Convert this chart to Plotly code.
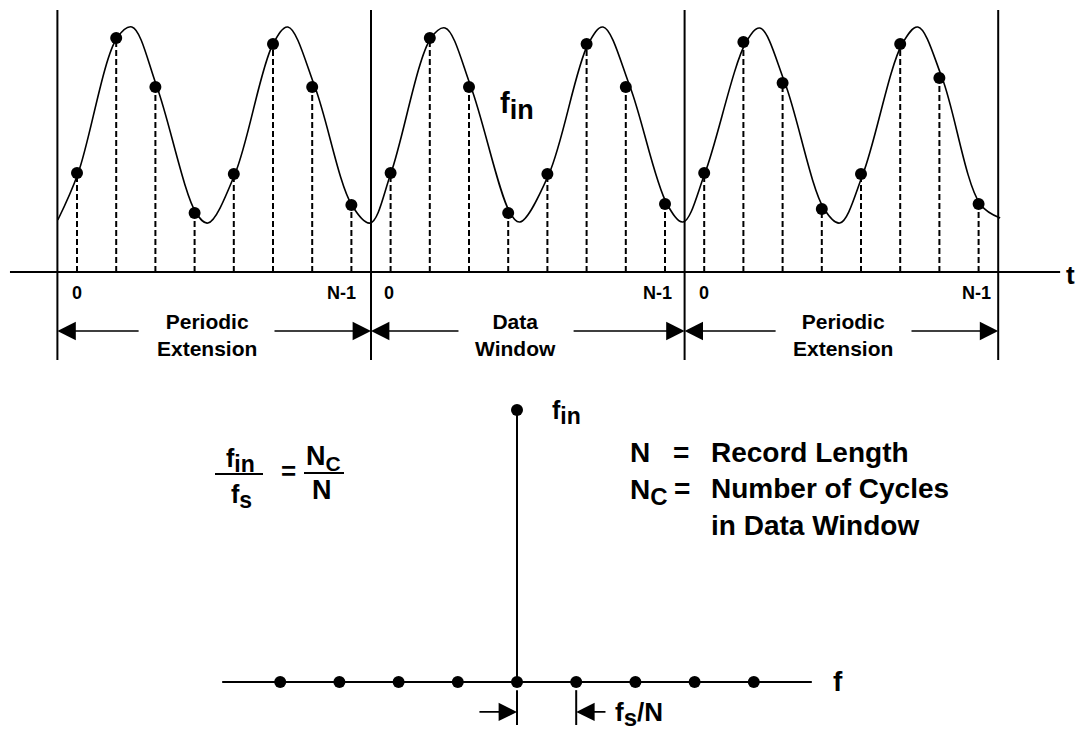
import plotly.graph_objects as go

W, H = 1080, 730
FONT = "Liberation Sans, Arial, sans-serif"

# ---------------- top panel: time-domain record ----------------
sample_n = list(range(-8, 16))          # sample index (data window = 0..7)
sample_vals = [0.99, 2.34, 1.85, 0.59, 0.98, 2.28, 1.85, 0.67,
               0.99, 2.34, 1.85, 0.59, 0.98, 2.28, 1.85, 0.68,
               0.99, 2.30, 1.89, 0.63, 0.98, 2.28, 1.94, 0.68]
curve_t = [-8.49, -7.97, -6.98, -6.60, -5.96, -4.96, -4.66, -3.97, -3.00, -2.62, -1.93, -0.99, -0.52,
           0.01, 1.03, 1.39, 2.05, 3.05, 3.30, 4.04, 5.04, 5.42, 6.11, 7.05, 7.46,
           8.02, 9.07, 9.42, 10.06, 11.06, 11.46, 12.05, 13.05, 13.45, 14.07, 15.04, 15.55]
curve_a = [0.52, 0.99, 2.34, 2.45, 1.85, 0.59, 0.49, 0.98, 2.28, 2.45, 1.85, 0.67, 0.49,
           0.99, 2.34, 2.44, 1.85, 0.59, 0.50, 0.98, 2.28, 2.45, 1.85, 0.68, 0.50,
           0.99, 2.30, 2.44, 1.89, 0.63, 0.49, 0.98, 2.28, 2.45, 1.94, 0.68, 0.54]
window_edges = [-8.5, -0.5, 7.5, 15.5]
window_labels = ["Periodic<br>Extension", "Data<br>Window", "Periodic<br>Extension"]
index_labels = ["0", "N-1"]

# ---------------- bottom panel: FFT output ----------------
bins = [-4, -3, -2, -1, 0, 1, 2, 3, 4]
mags = [0, 0, 0, 0, 1, 0, 0, 0, 0]

# axis scales (pixel-matched layout)
T_RANGE = [-9.9643, 17.5867]
A_RANGE = [-4.58, 2.72]
K_RANGE = [-8.7331, 9.5101]
M_RANGE = [-0.17647, 2.50735]

fig = go.Figure()

# dashed sample lines
dx, dy = [], []
for n, v in zip(sample_n, sample_vals):
    dx += [n, n, None]
    dy += [0, v, None]
fig.add_trace(go.Scatter(x=dx, y=dy, mode="lines",
                         line=dict(color="black", width=2, dash="6px,3px"),
                         hoverinfo="skip", showlegend=False))
# continuous input signal
fig.add_trace(go.Scatter(x=curve_t, y=curve_a, mode="lines",
                         line=dict(color="black", width=1.6, shape="spline", smoothing=1.0),
                         showlegend=False))
# samples
fig.add_trace(go.Scatter(x=sample_n, y=sample_vals, mode="markers",
                         marker=dict(color="black", size=12), showlegend=False))

# bottom: stems, baseline dots and top dots
sx, sy = [], []
for k, m in zip(bins, mags):
    if m:
        sx += [k, k, None]
        sy += [0, m, None]
fig.add_trace(go.Scatter(x=sx, y=sy, mode="lines", xaxis="x2", yaxis="y2",
                         line=dict(color="black", width=2), showlegend=False))
fig.add_trace(go.Scatter(x=bins, y=[0] * len(bins), mode="markers", xaxis="x2", yaxis="y2",
                         marker=dict(color="black", size=12), showlegend=False))
fig.add_trace(go.Scatter(x=[k for k, m in zip(bins, mags) if m],
                         y=[m for m in mags if m], mode="markers", xaxis="x2", yaxis="y2",
                         marker=dict(color="black", size=12), showlegend=False))

shapes = []
# top baseline (time axis)
shapes.append(dict(type="line", xref="x", yref="y", x0=-9.71, x1=17.08, y0=0, y1=0,
                   line=dict(color="black", width=2)))
# window boundaries
for e in window_edges:
    shapes.append(dict(type="line", xref="x", yref="y", x0=e, x1=e, y0=-0.88, y1=2.62,
                       line=dict(color="black", width=2)))
# bottom baseline (frequency axis)
shapes.append(dict(type="line", xref="x2", yref="y2", x0=-4.98, x1=4.98, y0=0, y1=0,
                   line=dict(color="black", width=2)))
# bin spacing ticks
for k in [0, 1]:
    shapes.append(dict(type="line", xref="x2", yref="y2", x0=k, x1=k, y0=-0.03, y1=-0.158,
                       line=dict(color="black", width=2)))


def px(x, y):
    return x / W, 1 - y / H


# fraction bars
for x0, x1, y in [(215, 263, 474), (304, 344, 473)]:
    a0, b0 = px(x0, y)
    a1, _ = px(x1, y)
    shapes.append(dict(type="line", xref="paper", yref="paper", x0=a0, x1=a1, y0=b0, y1=b0,
                       line=dict(color="black", width=2)))

ann = []


def txt(x, y, s, size, xanchor="center", yanchor="middle", align="center"):
    a, b = px(x, y)
    ann.append(dict(x=a, y=b, xref="paper", yref="paper", text=s, showarrow=False,
                    xanchor=xanchor, yanchor=yanchor, align=align,
                    font=dict(family=FONT, size=size, color="black", weight="bold")))


def sub(main, s, size):
    return f'{main}<sub><span style="font-size:{size}px">{s}</span></sub>'


# arrows for windows
ARROW_Y = -0.59
arrow_tails = [-6.39, -3.0, 1.77, 4.63, 9.86, 13.25]
arrow_heads = [-8.5, -0.5, -0.5, 7.5, 7.5, 15.5]
for tl, hd in zip(arrow_tails, arrow_heads):
    ann.append(dict(x=hd, y=ARROW_Y, ax=tl, ay=ARROW_Y, xref="x", yref="y", axref="x", ayref="y",
                    text="", showarrow=True, arrowhead=2, arrowsize=2.3, arrowwidth=1.6,
                    arrowcolor="black", standoff=0, startstandoff=0))
# bottom spacing arrows
for tl, hd in [(-0.66, 0), (1.52, 1)]:
    ann.append(dict(x=hd, y=-0.11, ax=tl, ay=-0.11, xref="x2", yref="y2", axref="x2", ayref="y2",
                    text="", showarrow=True, arrowhead=2, arrowsize=2.3, arrowwidth=1.6,
                    arrowcolor="black", standoff=0, startstandoff=0))

# window labels
for (cx, lab) in zip([207, 515, 843], window_labels):
    txt(cx, 335, lab, 21)
# sample index labels
for cx in [77, 389, 704]:
    txt(cx, 293, index_labels[0], 18)
for cx in [341, 657, 976]:
    txt(cx, 293, index_labels[1], 18)

txt(1070, 275, "t", 26)
txt(517, 106, sub("f", "in", 27), 29)

# bottom panel labels
txt(550, 412, sub("f", "in", 23), 25, xanchor="left")
txt(838, 681, "f", 28)
txt(613, 714, sub("f", "s", 24) + "/N", 26, xanchor="left")

# formula
txt(240, 460, sub("f", "in", 23), 25)
txt(241, 496, sub("f", "s", 23), 25)
txt(288, 471, "=", 26)
txt(323, 458, sub("N", "C", 21), 27)
txt(322, 490, "N", 27)

# definitions
txt(628, 453, "N", 28, xanchor="left")
txt(628, 492, sub("N", "C", 24), 28, xanchor="left")
txt(681, 452, "=", 28)
txt(682, 488, "=", 28)
txt(709, 489, "Record Length<br>Number of Cycles<br>in Data Window", 28,
    xanchor="left", align="left")

fig.update_layout(
    width=W, height=H,
    margin=dict(l=0, r=0, t=0, b=0),
    paper_bgcolor="white", plot_bgcolor="white",
    showlegend=False,
    xaxis=dict(range=T_RANGE, domain=[0, 1], visible=False, fixedrange=True),
    yaxis=dict(range=A_RANGE, domain=[0, 1], visible=False, fixedrange=True),
    xaxis2=dict(range=K_RANGE, domain=[0, 1], overlaying="x", anchor="y2", visible=False),
    yaxis2=dict(range=M_RANGE, domain=[0, 1], overlaying="y", anchor="x2", visible=False),
    shapes=shapes,
    annotations=ann,
)

fig.write_html(
    "out.html",
    config={"displayModeBar": False},
    post_script="document.body.style.margin='0';document.body.style.overflow='hidden';",
)
